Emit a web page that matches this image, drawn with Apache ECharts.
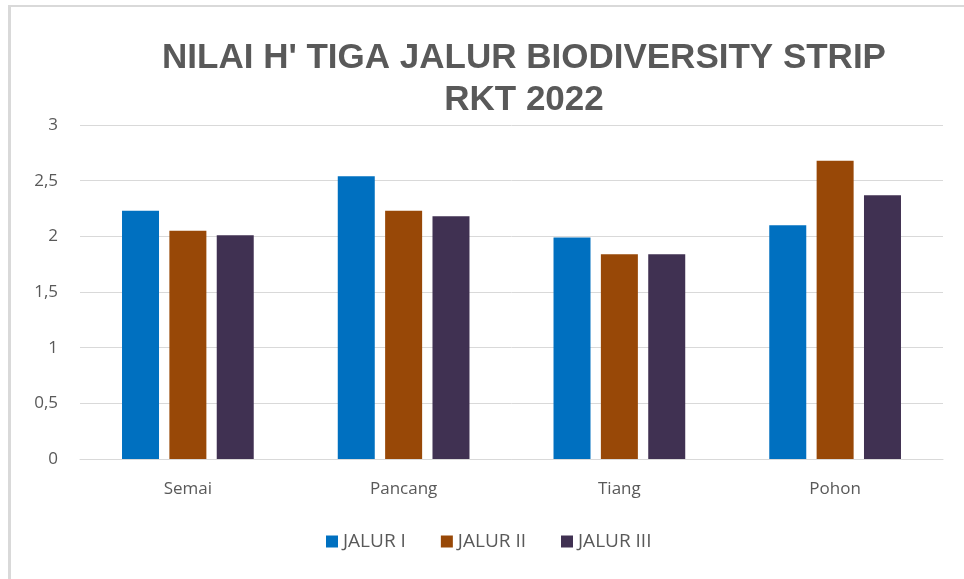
<!DOCTYPE html>
<html>
<head>
<meta charset="utf-8">
<script src="https://cdn.jsdelivr.net/npm/echarts@6/dist/echarts.min.js"></script>
<style>
  html, body { margin: 0; padding: 0; background: #fff; }
  #frame {
    position: absolute; left: 8px; top: 5px; width: 1000px; height: 600px;
    border-left: 3px solid #d9d9d9; border-top: 2px solid #d9d9d9;
  }
  #chart { position: absolute; left: 0; top: 0; width: 964px; height: 579px; }
</style>
</head>
<body>
<div id="frame"></div>
<div id="chart"></div>
<script>
// data
var categories = ["Semai", "Pancang", "Tiang", "Pohon"];
var jalur1 = [2.23, 2.54, 1.99, 2.10];
var jalur2 = [2.05, 2.23, 1.84, 2.68];
var jalur3 = [2.01, 2.18, 1.84, 2.37];
var seriesNames = ["JALUR I", "JALUR II", "JALUR III"];
var colors = ["#0070c0", "#984807", "#403152"];

var labelFont = "'Open Sans', 'Liberation Sans', sans-serif";

var myChart = echarts.init(document.getElementById("chart"));

var option = {
  animation: false,
  color: colors,
  title: {
    text: "NILAI H' TIGA JALUR BIODIVERSITY STRIP\nRKT 2022",
    left: 519,
    top: 32,
    textAlign: "center",
    textStyle: {
      fontFamily: "'Liberation Sans', Arial, sans-serif",
      fontWeight: "bold",
      fontSize: 35,
      lineHeight: 42,
      color: "#595959",
    },
  },
  legend: {
    data: seriesNames,
    bottom: 23,
    left: 321,
    itemWidth: 12,
    itemHeight: 12,
    itemGap: 35,
    icon: "rect",
    textStyle: {
      fontFamily: labelFont,
      fontSize: 19,
      color: "#595959",
    },
  },
  grid: {
    left: 80,
    right: 21,
    top: 125,
    bottom: 120,
    containLabel: false,
  },
  xAxis: {
    type: "category",
    data: categories,
    axisLine: { lineStyle: { color: "#d9d9d9", width: 1 } },
    axisTick: { show: false },
    axisLabel: {
      margin: 22,
      fontFamily: labelFont,
      fontSize: 17,
      color: "#595959",
    },
  },
  yAxis: {
    type: "value",
    min: 0,
    max: 3,
    interval: 0.5,
    axisLine: { show: false },
    axisTick: { show: false },
    splitLine: { lineStyle: { color: "#d9d9d9", width: 1 } },
    axisLabel: {
      margin: 22,
      fontFamily: labelFont,
      fontSize: 17,
      color: "#595959",
      formatter: function (v) {
        return String(v).replace(".", ",");
      },
    },
  },
  series: [
    { name: seriesNames[0], type: "bar", data: jalur1, barWidth: 37, barGap: "28%" },
    { name: seriesNames[1], type: "bar", data: jalur2, barWidth: 37, barGap: "28%" },
    { name: seriesNames[2], type: "bar", data: jalur3, barWidth: 37, barGap: "28%" },
  ],
};

myChart.setOption(option);
</script>
</body>
</html>
